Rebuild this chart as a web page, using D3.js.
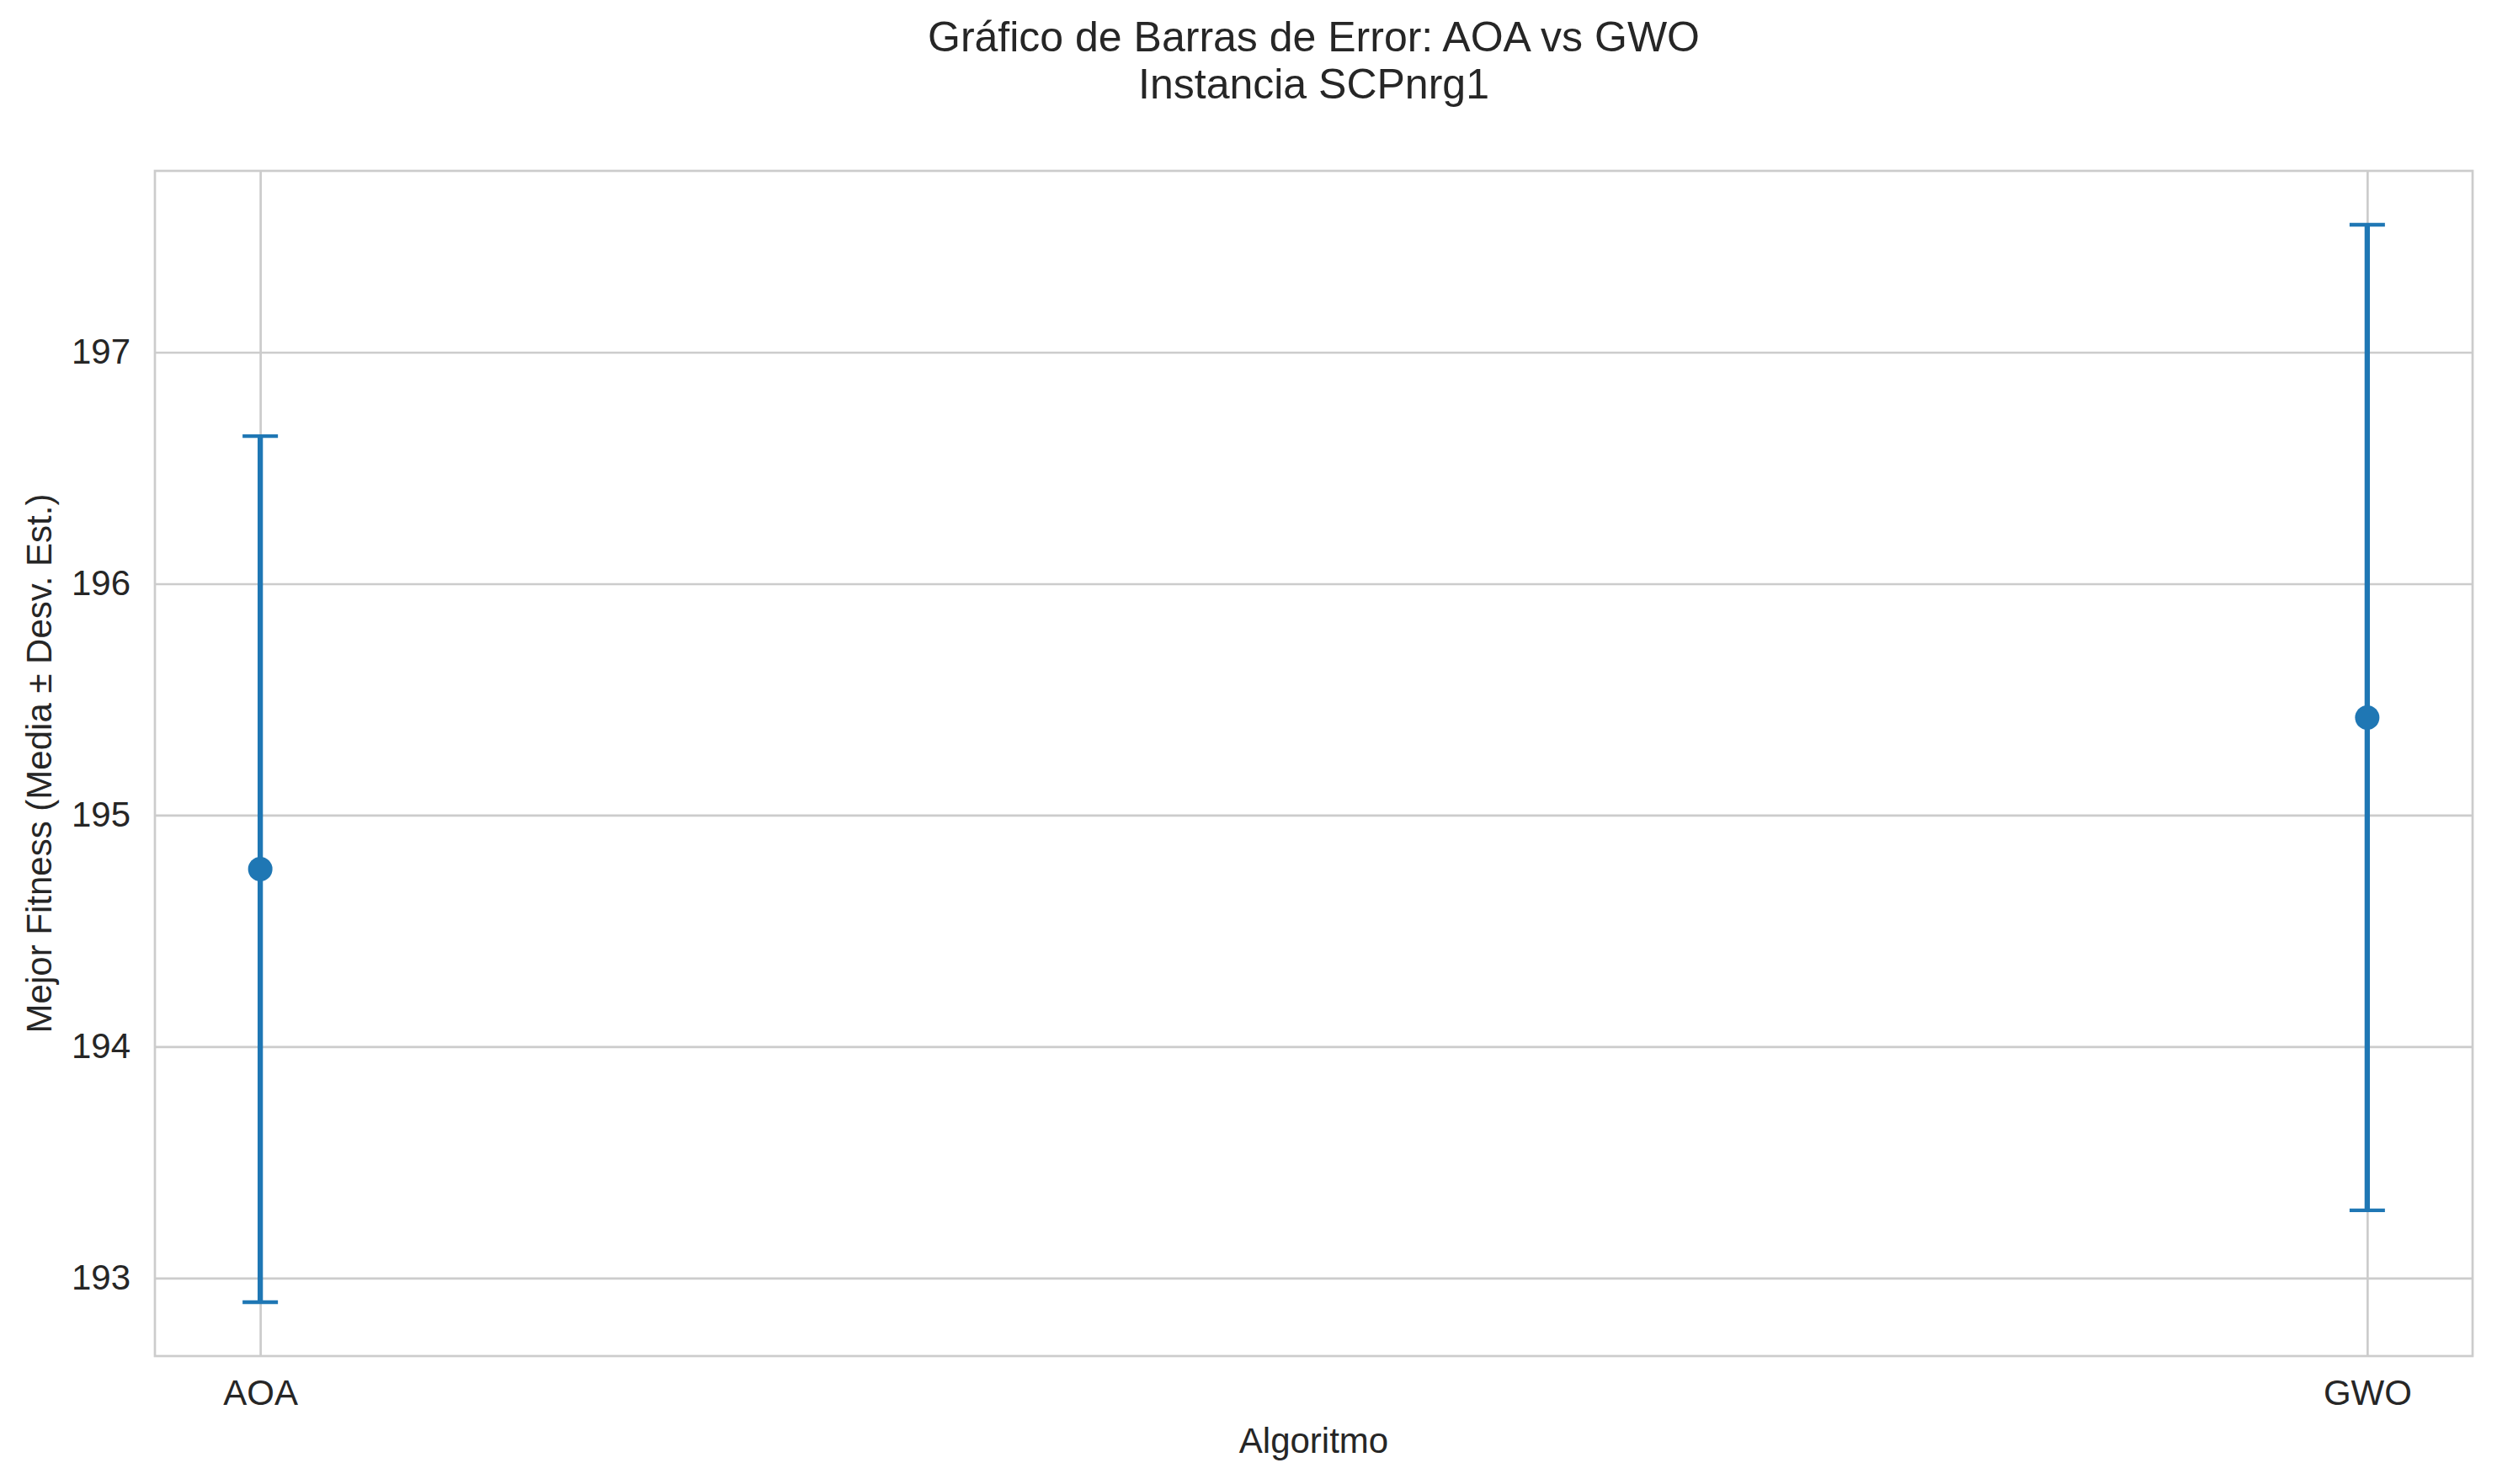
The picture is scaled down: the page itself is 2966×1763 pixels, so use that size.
<!DOCTYPE html>
<html>
<head>
<meta charset="utf-8">
<script src="https://cdn.jsdelivr.net/npm/d3@7"></script>
<style>
  html, body { margin: 0; padding: 0; background: #ffffff; }
  svg { display: block; }
  text { font-family: "Liberation Sans", Arial, sans-serif; fill: #262626; }
</style>
</head>
<body>
<script>
// ---- data ----
const categories = ["AOA", "GWO"];
const means = [194.767, 195.422];
const stds = [1.871, 2.129];
const yTicks = [193, 194, 195, 196, 197];
const titleLines = ["Gráfico de Barras de Error: AOA vs GWO", "Instancia SCPnrg1"];
const xLabel = "Algoritmo";
const yLabel = "Mejor Fitness (Media ± Desv. Est.)";

// ---- layout ----
const W = 2966, H = 1763;
const plot = { left: 184, right: 2937, top: 203, bottom: 1611 };
const color = "#1f77b4";
const gridColor = "#cccccc";

const svg = d3.select("body").append("svg")
  .attr("width", W).attr("height", H)
  .attr("viewBox", `0 0 ${W} ${H}`);

svg.append("rect").attr("width", W).attr("height", H).attr("fill", "#ffffff");

// y domain with matplotlib-like 5% margins
const lo = d3.min(means.map((m, i) => m - stds[i]));
const hi = d3.max(means.map((m, i) => m + stds[i]));
const pad = (hi - lo) * 0.05;
const y = d3.scaleLinear().domain([lo - pad, hi + pad]).range([plot.bottom, plot.top]);

const xIdx = d3.scaleLinear().domain([-0.05, (categories.length - 1) + 0.05]).range([plot.left, plot.right]);
const x = c => xIdx(categories.indexOf(c));

// grid lines
const yAxis = d3.axisLeft(y).tickValues(yTicks).tickFormat(d3.format("d"))
  .tickSize(-(plot.right - plot.left)).tickPadding(29);
const gy = svg.append("g").attr("transform", `translate(${plot.left},0)`).call(yAxis);
gy.select(".domain").remove();
gy.selectAll(".tick line").attr("stroke", gridColor).attr("stroke-width", 2.7);
gy.selectAll(".tick text").attr("font-size", 42).attr("fill", "#262626")
  .attr("font-family", "Liberation Sans, Arial, sans-serif");

const xAxis = d3.axisBottom(xIdx).tickValues(d3.range(categories.length))
  .tickFormat(i => categories[i])
  .tickSize(-(plot.bottom - plot.top)).tickPadding(28);
const gx = svg.append("g").attr("transform", `translate(0,${plot.bottom})`).call(xAxis);
gx.select(".domain").remove();
gx.selectAll(".tick line").attr("stroke", gridColor).attr("stroke-width", 2.7);
gx.selectAll(".tick text").attr("font-size", 42).attr("fill", "#262626")
  .attr("font-family", "Liberation Sans, Arial, sans-serif");

// spines
svg.append("rect")
  .attr("x", plot.left).attr("y", plot.top)
  .attr("width", plot.right - plot.left).attr("height", plot.bottom - plot.top)
  .attr("fill", "none").attr("stroke", gridColor).attr("stroke-width", 2.7);

// error bars
const data = categories.map((c, i) => ({ c, m: means[i], s: stds[i] }));
const eb = svg.append("g");
eb.selectAll("line.err").data(data).join("line").attr("class", "err")
  .attr("x1", d => x(d.c)).attr("x2", d => x(d.c))
  .attr("y1", d => y(d.m - d.s)).attr("y2", d => y(d.m + d.s))
  .attr("stroke", color).attr("stroke-width", 6.3);
const capHalf = 21;
["lo", "hi"].forEach(k => {
  eb.selectAll("line.cap" + k).data(data).join("line").attr("class", "cap" + k)
    .attr("x1", d => x(d.c) - capHalf).attr("x2", d => x(d.c) + capHalf)
    .attr("y1", d => y(k === "lo" ? d.m - d.s : d.m + d.s))
    .attr("y2", d => y(k === "lo" ? d.m - d.s : d.m + d.s))
    .attr("stroke", color).attr("stroke-width", 4.3);
});
eb.selectAll("circle").data(data).join("circle")
  .attr("cx", d => x(d.c)).attr("cy", d => y(d.m)).attr("r", 14.5)
  .attr("fill", color);

// labels
svg.append("text").attr("x", (plot.left + plot.right) / 2).attr("y", 1726)
  .attr("text-anchor", "middle").attr("font-size", 42).text(xLabel);

svg.append("text")
  .attr("transform", `translate(61,${(plot.top + plot.bottom) / 2}) rotate(-90)`)
  .attr("text-anchor", "middle").attr("font-size", 42).text(yLabel);

// title
svg.append("g").selectAll("text").data(titleLines).join("text")
  .attr("x", (plot.left + plot.right) / 2)
  .attr("y", (d, i) => 61 + i * 56)
  .attr("text-anchor", "middle").attr("font-size", 50).text(d => d);
</script>
</body>
</html>
